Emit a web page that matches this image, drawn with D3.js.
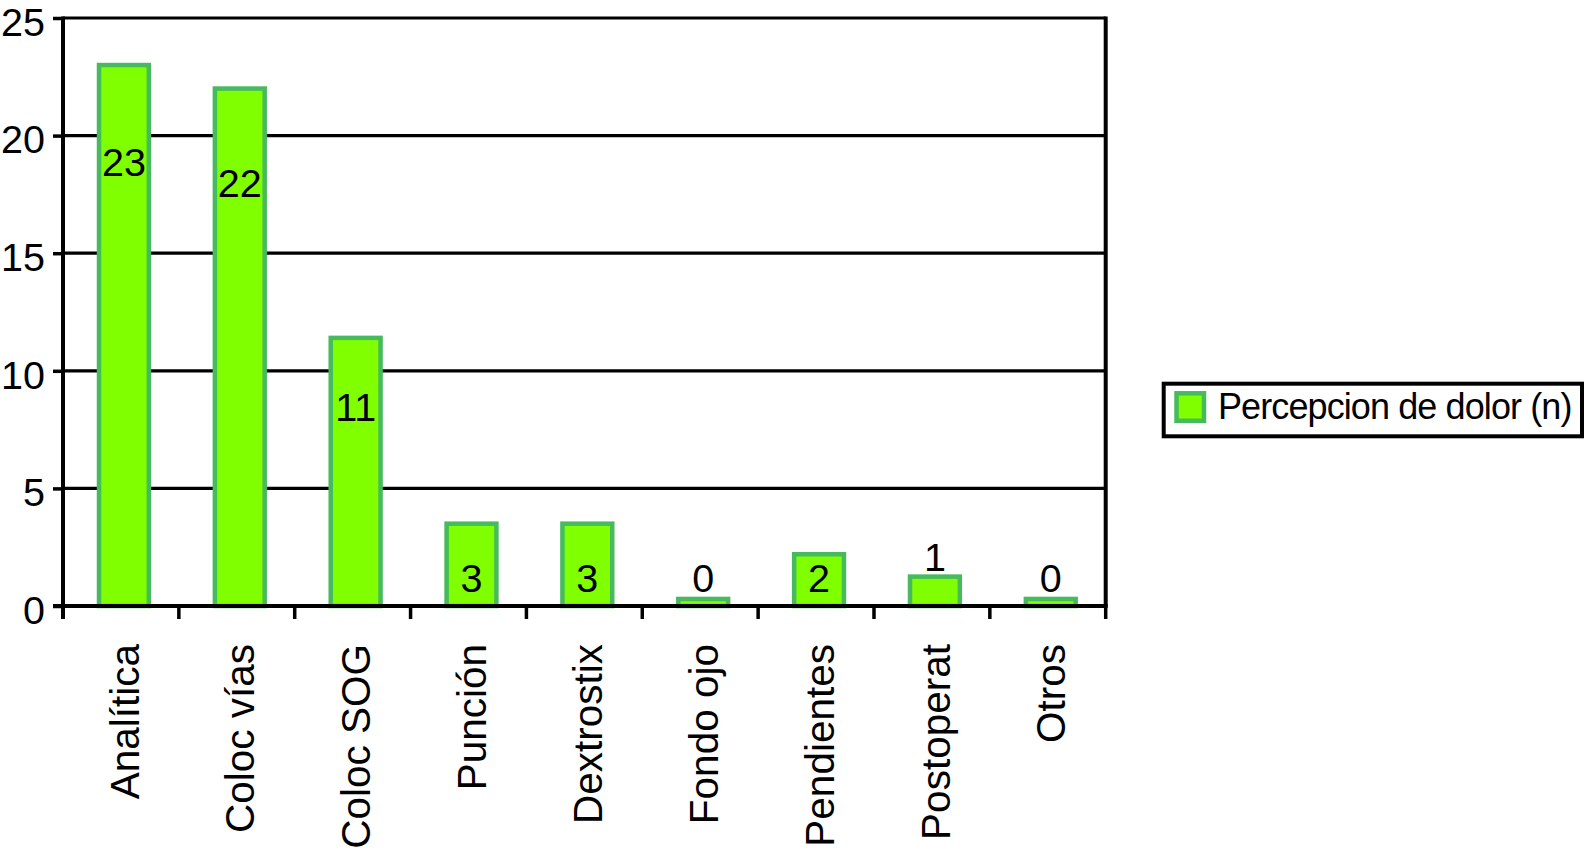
<!DOCTYPE html>
<html>
<head>
<meta charset="utf-8">
<script src="https://cdn.jsdelivr.net/npm/d3@7"></script>
<style>
  html, body { margin: 0; padding: 0; background: #fff; }
  svg { display: block; }
  text { font-family: "Liberation Sans", Arial, Helvetica, sans-serif; fill: #000; }
</style>
</head>
<body>
<svg id="chart" width="1590" height="854"></svg>
<script>
// ---- data ----
const categories = ["Analítica", "Coloc vías", "Coloc SOG", "Punción", "Dextrostix", "Fondo ojo", "Pendientes", "Postoperat", "Otros"];
const barValues = [23, 22, 11.4, 3.5, 3.5, 0.3, 2.2, 1.25, 0.3];
const valueLabels = ["23", "22", "11", "3", "3", "0", "2", "1", "0"];
const yTicks = [0, 5, 10, 15, 20, 25];
const seriesName = "Percepcion de dolor (n)";

// ---- layout ----
(function () {
const svg = d3.select("#chart");
const pLeft = 63, pRight = 1105.7, pTop = 18, pBottom = 606;
const fillColor = "#7fff00", strokeColor = "#46ba5c";

const y = d3.scaleLinear().domain([0, 25]).range([pBottom, pTop]);
const x = d3.scaleBand().domain(categories).range([pLeft, pRight]).padding(0);
const barW = x.bandwidth() * 0.43;
const barShift = 3;
const cx = d => x(d) + x.bandwidth() / 2 + barShift;

// gridlines
svg.append("g").selectAll("line").data(yTicks.filter(t => t > 0)).join("line")
  .attr("x1", pLeft).attr("x2", pRight)
  .attr("y1", d => y(d)).attr("y2", d => y(d))
  .attr("stroke", "#000").attr("stroke-width", 3.2);

// right border
svg.append("line").attr("x1", pRight).attr("x2", pRight).attr("y1", y(25) - 1.6).attr("y2", y(0))
  .attr("stroke", "#000").attr("stroke-width", 4);

// bars
svg.append("g").selectAll("rect").data(categories).join("rect")
  .attr("x", d => cx(d) - barW / 2)
  .attr("y", (d, i) => y(barValues[i]))
  .attr("width", barW)
  .attr("height", (d, i) => y(0) - y(barValues[i]))
  .attr("fill", fillColor)
  .attr("stroke", strokeColor)
  .attr("stroke-width", 4.5);

// y axis
const yAxis = svg.append("g").attr("transform", `translate(${pLeft},0)`)
  .call(d3.axisLeft(y).tickValues(yTicks).tickSize(10).tickPadding(8).tickFormat(d3.format("d")));
yAxis.select(".domain").attr("stroke", "#000").attr("stroke-width", 4)
  .attr("d", `M0,${y(25) - 1.6}V${y(0) + 13}`);
yAxis.selectAll(".tick line").attr("stroke", "#000").attr("stroke-width", 3.5);
yAxis.selectAll(".tick text").attr("font-size", 39.5).attr("dy", "0.44em")
  .style("font-family", '"Liberation Sans", Arial, sans-serif').attr("fill", "#000");

// x axis baseline and boundary ticks
svg.append("line").attr("x1", pLeft - 10).attr("x2", pRight + 2).attr("y1", y(0)).attr("y2", y(0))
  .attr("stroke", "#000").attr("stroke-width", 4);
const boundaries = d3.range(categories.length + 1).map(k => pLeft + k * x.step());
svg.append("g").selectAll("line").data(boundaries).join("line")
  .attr("x1", d => d).attr("x2", d => d)
  .attr("y1", y(0)).attr("y2", y(0) + 13)
  .attr("stroke", "#000").attr("stroke-width", 3.5);

// category labels (rotated)
svg.append("g").selectAll("text").data(categories).join("text")
  .attr("transform", d => `translate(${cx(d)},${pBottom + 38}) rotate(-90)`)
  .attr("text-anchor", "end")
  .attr("dy", "0.36em")
  .attr("font-size", 40.5)
  .text(d => d);

// value labels
const fs = 39.5;
const half = fs * 0.358;
function labelCenter(v) {
  if (v >= 5) return y(0.9 * v - 1.8);
  const c = y(1.2);
  if (y(v) + 3 < c - half) return c;          // fits inside the bar
  return Math.min(c, y(v) - 6 - half);         // otherwise sits above it
}
svg.append("g").selectAll("text").data(categories).join("text")
  .attr("x", d => cx(d))
  .attr("y", (d, i) => labelCenter(barValues[i]))
  .attr("dy", "0.358em")
  .attr("text-anchor", "middle")
  .attr("font-size", fs)
  .text((d, i) => valueLabels[i]);

// legend
const lg = svg.append("g");
lg.append("rect").attr("x", 1163.7).attr("y", 383.7).attr("width", 418.3).attr("height", 52.6)
  .attr("fill", "#fff").attr("stroke", "#000").attr("stroke-width", 4);
lg.append("rect").attr("x", 1176.5).attr("y", 393.3).attr("width", 27.5).attr("height", 27.5)
  .attr("fill", fillColor).attr("stroke", strokeColor).attr("stroke-width", 4.5);
lg.append("text").attr("x", 1218).attr("y", 419).attr("font-size", 36)
  .attr("letter-spacing", "-0.9px").text(seriesName);
})();
</script>
</body>
</html>
